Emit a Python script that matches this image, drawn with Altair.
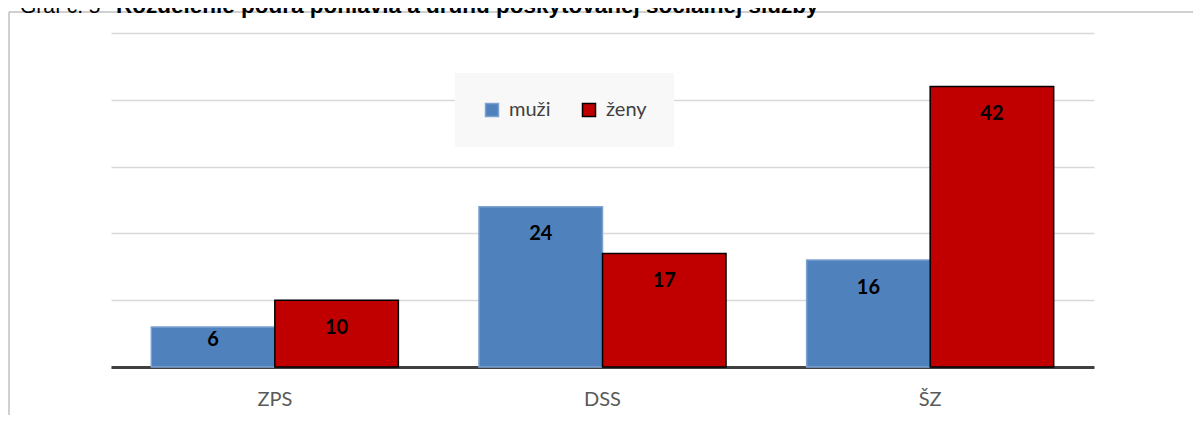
import altair as alt
import pandas as pd

categories = ["ZPS", "DSS", "ŠZ"]
series = ["muži", "ženy"]
muzi = [6, 24, 16]
zeny = [10, 17, 42]
title_prefix = "Graf č. 5"
title_bold = "Rozdelenie podľa pohlavia a druhu poskytovanej sociálnej služby"

rows = []
for c, m, z in zip(categories, muzi, zeny):
    rows.append({"druh": c, "pohlavie": series[0], "pocet": m})
    rows.append({"druh": c, "pohlavie": series[1], "pocet": z})
df = pd.DataFrame(rows)

FONT = "Lato"
x_enc = alt.X("druh:N", sort=categories,
              scale=alt.Scale(paddingInner=0.246, paddingOuter=0.123),
              axis=alt.Axis(title=None, labelFont=FONT, labelFontSize=20, labelColor="#595959",
                            labelAngle=0, ticks=False, domainColor="#404040", domainWidth=3,
                            labelPadding=22, grid=False))
y_scale = alt.Scale(domain=[0, 50], nice=False)

leg = alt.Legend(title=None, orient="none", direction="horizontal",
                 legendX=344, legendY=40, fillColor="#f8f8f8", padding=27,
                 symbolType="square", symbolSize=169, labelFont=FONT,
                 labelFontSize=20, labelColor="#404040", labelOffset=7,
                 columnPadding=28, symbolStrokeWidth=1.5)

base = alt.Chart(df)

bars = base.mark_bar(strokeWidth=1.5).encode(
    x=x_enc,
    xOffset=alt.XOffset("pohlavie:N", sort=series, scale=alt.Scale(paddingInner=0, paddingOuter=0)),
    y=alt.Y("pocet:Q", scale=y_scale,
            axis=alt.Axis(title=None, labels=False, ticks=False, domain=False,
                          values=[0, 10, 20, 30, 40, 50], gridColor="#d9d9d9", gridWidth=1.3)),
    color=alt.Color("pohlavie:N", sort=series,
                    scale=alt.Scale(domain=series, range=["#4f81bd", "#c00000"]),
                    legend=leg),
    stroke=alt.Stroke("pohlavie:N", sort=series,
                      scale=alt.Scale(domain=series, range=["#7ea1cf", "#000000"]),
                      legend=leg),
)

labels = base.transform_calculate(
    ly="max(datum.pocet - 4.1, 4.0)"
).mark_text(font=FONT, fontSize=20, fontWeight="bold", color="#000000", baseline="middle").encode(
    x=alt.X("druh:N", sort=categories),
    xOffset=alt.XOffset("pohlavie:N", sort=series),
    y=alt.Y("ly:Q", scale=y_scale),
    text="pocet:Q",
)

one = pd.DataFrame({"a": [0]})
frame_top = alt.Chart(one).mark_rule(color="#c0c0c0", strokeWidth=1.5).encode(
    x=alt.value(-102), x2=alt.value(1089), y=alt.value(-21))
frame_left = alt.Chart(one).mark_rule(color="#c0c0c0", strokeWidth=1.5).encode(
    x=alt.value(-102), y=alt.value(-21), y2=alt.value(400))

t1 = alt.Chart(pd.DataFrame({"t": [title_prefix]})).mark_text(
    font="Liberation Sans", fontSize=21, align="left", baseline="alphabetic", color="#000000"
).encode(x=alt.value(-91), y=alt.value(-20), text="t:N")
t2 = alt.Chart(pd.DataFrame({"t": [title_bold]})).mark_text(
    font="Liberation Sans", fontSize=22.5, fontWeight="bold", align="left",
    baseline="alphabetic", color="#000000"
).encode(x=alt.value(5), y=alt.value(-20), text="t:N")

chart = alt.layer(bars, labels, frame_top, frame_left, t1, t2).properties(
    width=983, height=334,
    autosize=alt.AutoSizeParams(type="none"),
    padding={"left": 103, "top": 25, "right": 99, "bottom": 48},
    background="white",
).configure_view(stroke=None)

chart.save("out.html", embed_options={"renderer": "svg", "actions": False})
